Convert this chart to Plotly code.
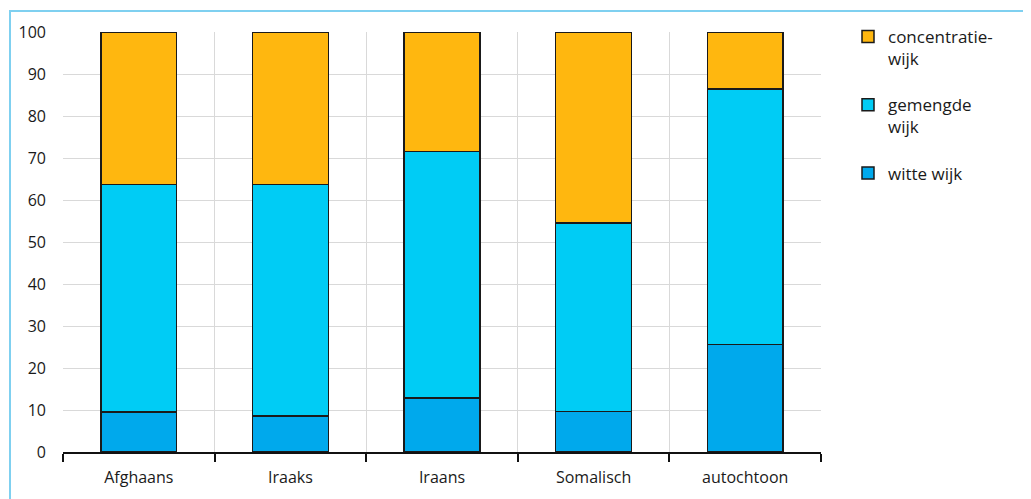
import plotly.graph_objects as go

categories = ["Afghaans", "Iraaks", "Iraans", "Somalisch", "autochtoon"]
witte = [9.5, 8.6, 12.8, 9.6, 25.6]
gemengde = [54.2, 55.1, 58.7, 44.9, 60.8]
concentratie = [36.3, 36.3, 28.5, 45.5, 13.6]
series_names = ["witte wijk", "gemengde<br>wijk", "concentratie-<br>wijk"]
series_colors = ["#00A9EC", "#00CCF5", "#FFB70F"]
legend_ranks = [3, 2, 1]
y_ticks = list(range(0, 101, 10))

FONT = "Open Sans"
fig = go.Figure()
for i, (vals, name, col, rk) in enumerate(zip([witte, gemengde, concentratie], series_names, series_colors, legend_ranks)):
    fig.add_trace(go.Bar(
        x=categories, y=vals, name=name, width=0.5,
        marker=dict(color=col, line=dict(color="#1a1a1a", width=1.5)),
        legendgroup=f"g{i}", legendrank=rk, hoverinfo="skip",
    ))

OFF = 8  # default page body margin
W, H = 1031 - OFF, 499 - OFF
L, T = 63 - OFF, 31 - OFF
pw, ph = 758, 421
R, B = W - L - pw, H - T - ph

fig.update_layout(
    width=W, height=H, barmode="stack",
    margin=dict(l=L, r=R, t=T, b=B),
    paper_bgcolor="white", plot_bgcolor="white",
    font=dict(family=FONT, size=15, color="#1a1a1a"),
    showlegend=True,
    legend=dict(
        x=(848 - 63) / pw, y=(ph + 12) / ph, xanchor="left", yanchor="top",
        traceorder="grouped", tracegroupgap=21,
        font=dict(size=17, color="#1a1a1a", family=FONT),
        valign="top", bgcolor="rgba(0,0,0,0)",
    ),
    xaxis=dict(
        type="category", tickson="boundaries", showgrid=True, gridcolor="#d9d9d9",
        gridwidth=1, showline=True, linecolor="#111111", linewidth=1.5,
        ticks="outside", ticklen=8, tickcolor="#111111", tickwidth=1.5,
        ticklabelstandoff=10,
        tickfont=dict(size=16, color="#1a1a1a"), range=[-0.5, 4.5],
    ),
    yaxis=dict(
        range=[0, 100], tickvals=y_ticks, showgrid=True, gridcolor="#d9d9d9",
        gridwidth=1, zeroline=False, showline=False, ticks="",
        ticklabelstandoff=16, tickfont=dict(size=16, color="#1a1a1a"),
    ),
    shapes=[dict(
        type="rect", xref="paper", yref="paper",
        x0=(2 - L) / pw, x1=(W + 20 - L) / pw,
        y0=-(B + 20) / ph, y1=(ph + T - 2) / ph,
        line=dict(color="#7fd0f0", width=2), fillcolor="rgba(0,0,0,0)", layer="below",
    )],
)

fig.write_html("out.html")
